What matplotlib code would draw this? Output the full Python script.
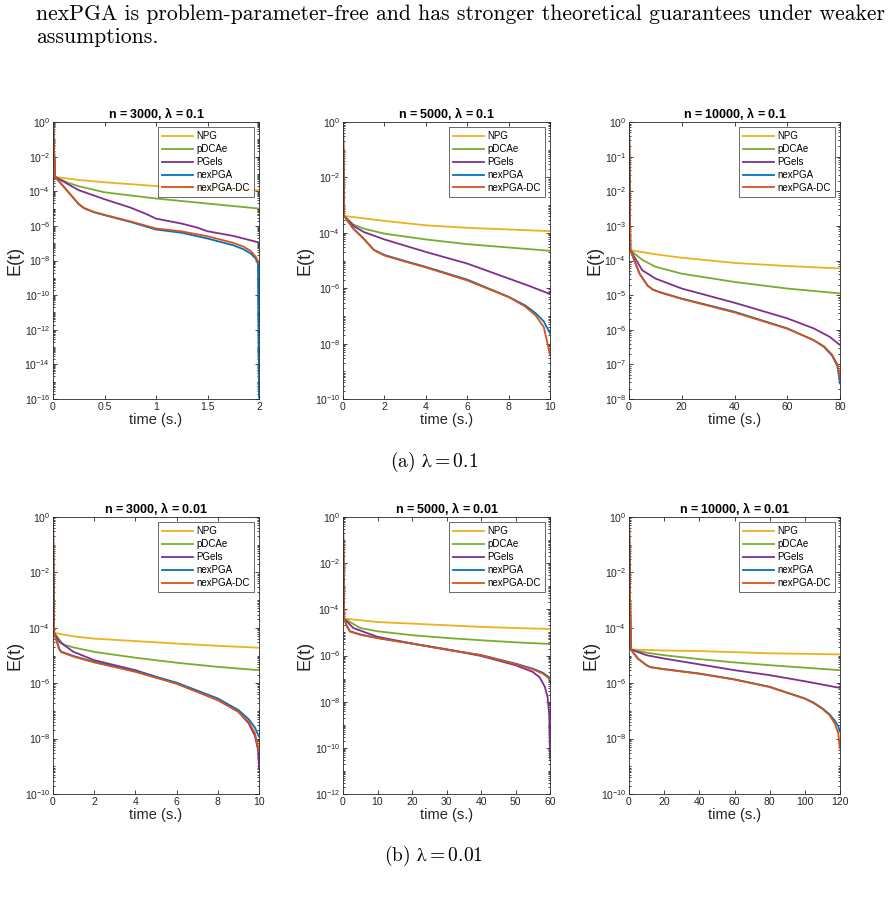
import numpy as np
import matplotlib
matplotlib.use("Agg")
import matplotlib.pyplot as plt
from matplotlib.ticker import FixedLocator, NullFormatter, FuncFormatter, LogFormatterSciNotation

plt.rcParams['font.family'] = ['Liberation Sans', 'DejaVu Sans']
plt.rcParams['mathtext.fontset'] = 'cm'
plt.rcParams['mathtext.default'] = 'regular'

methods = ["NPG", "pDCAe", "PGels", "nexPGA", "nexPGA-DC"]
colors = ["#EDB120", "#77AC30", "#7E2F8E", "#0072BD", "#D95319"]

titles = ["n = 3000, $\\lambda$ = 0.1", "n = 5000, $\\lambda$ = 0.1", "n = 10000, $\\lambda$ = 0.1",
          "n = 3000, $\\lambda$ = 0.01", "n = 5000, $\\lambda$ = 0.01", "n = 10000, $\\lambda$ = 0.01"]
x_max = [2, 10, 80, 10, 60, 120]
x_ticks = [[0, 0.5, 1, 1.5, 2], [0, 2, 4, 6, 8, 10], [0, 20, 40, 60, 80],
           [0, 2, 4, 6, 8, 10], [0, 10, 20, 30, 40, 50, 60], [0, 20, 40, 60, 80, 100, 120]]
y_min_exp = [-16, -10, -8, -10, -12, -10]
y_step = [2, 2, 1, 2, 2, 2]

# E(t) values as log10 exponents
# (a) n = 3000, lambda = 0.1
a1_t = {"NPG": [0, 0.02, 0.25, 0.5, 1.0, 1.5, 2.0],
        "pDCAe": [0, 0.02, 0.15, 0.25, 0.5, 1.0, 1.5, 2.0],
        "PGels": [0, 0.02, 0.25, 0.5, 0.75, 0.9, 1.0, 1.25, 1.4, 1.5, 1.75, 2.0],
        "nexPGA": [0, 0.02, 0.1, 0.2, 0.25, 0.3, 0.4, 0.5, 0.75, 1.0, 1.25, 1.5, 1.75, 1.85, 1.92, 1.97, 1.99, 2.0],
        "nexPGA-DC": [0, 0.02, 0.1, 0.2, 0.25, 0.3, 0.4, 0.5, 0.75, 1.0, 1.25, 1.5, 1.75, 1.85, 1.92, 1.97, 2.0]}
a1_e = {"NPG": [0, -3.17, -3.35, -3.48, -3.70, -3.83, -3.94],
        "pDCAe": [0, -3.17, -3.52, -3.71, -4.06, -4.42, -4.71, -5.0],
        "PGels": [0, -3.17, -3.94, -4.46, -4.94, -5.3, -5.58, -5.87, -6.1, -6.31, -6.58, -6.96],
        "nexPGA": [0, -3.17, -3.71, -4.4, -4.75, -4.98, -5.22, -5.38, -5.77, -6.21, -6.40, -6.73, -7.12, -7.35, -7.6, -7.9, -8.2, -15.9],
        "nexPGA-DC": [0, -3.17, -3.71, -4.4, -4.73, -4.96, -5.2, -5.36, -5.74, -6.15, -6.32, -6.6, -6.98, -7.2, -7.45, -7.8, -8.17]}

# (a) n = 5000, lambda = 0.1
a2_t = {"NPG": [0, 0.05, 2, 4, 6, 8, 10],
        "pDCAe": [0, 0.05, 0.5, 1, 2, 4, 6, 8, 10],
        "PGels": [0, 0.05, 0.5, 1, 2, 4, 6, 8, 9, 10],
        "nexPGA": [0, 0.05, 0.5, 1, 1.5, 2, 3, 4, 6, 8, 8.8, 9.3, 9.7, 10],
        "nexPGA-DC": [0, 0.05, 0.5, 1, 1.5, 2, 3, 4, 6, 8, 8.8, 9.3, 9.7, 10]}
a2_e = {"NPG": [0, -3.39, -3.57, -3.73, -3.82, -3.88, -3.94],
        "pDCAe": [0, -3.39, -3.7, -3.85, -4.03, -4.24, -4.41, -4.53, -4.65],
        "PGels": [0, -3.39, -3.75, -3.97, -4.24, -4.69, -5.11, -5.65, -5.92, -6.21],
        "nexPGA": [0, -3.39, -3.85, -4.21, -4.62, -4.80, -5.02, -5.23, -5.69, -6.31, -6.62, -6.9, -7.2, -7.63],
        "nexPGA-DC": [0, -3.39, -3.85, -4.22, -4.63, -4.82, -5.04, -5.25, -5.72, -6.32, -6.66, -6.98, -7.4, -8.41]}

# (a) n = 10000, lambda = 0.1
a3_t = {"NPG": [0, 0.5, 10, 20, 40, 60, 80],
        "pDCAe": [0, 0.5, 5, 10, 20, 40, 60, 80],
        "PGels": [0, 0.5, 5, 10, 20, 40, 60, 70, 76, 80],
        "nexPGA": [0, 0.5, 4, 7, 9, 12, 20, 40, 60, 70, 74, 77, 79, 80],
        "nexPGA-DC": [0, 0.5, 4, 7, 9, 12, 20, 40, 60, 70, 74, 77, 79, 80]}
a3_e = {"NPG": [0, -3.70, -3.82, -3.92, -4.07, -4.16, -4.23],
        "pDCAe": [0, -3.70, -3.98, -4.18, -4.38, -4.62, -4.81, -4.95],
        "PGels": [0, -3.70, -4.28, -4.52, -4.81, -5.22, -5.67, -5.96, -6.2, -6.44],
        "nexPGA": [0, -3.70, -4.38, -4.72, -4.84, -4.92, -5.10, -5.48, -5.96, -6.30, -6.5, -6.75, -7.05, -7.55],
        "nexPGA-DC": [0, -3.70, -4.38, -4.72, -4.84, -4.93, -5.11, -5.50, -5.97, -6.30, -6.48, -6.72, -7.0, -7.40]}

# (b) n = 3000, lambda = 0.01
b1_t = {"NPG": [0, 0.05, 1, 2, 4, 6, 8, 10],
        "pDCAe": [0, 0.05, 0.5, 1, 2, 4, 6, 8, 10],
        "PGels": [0, 0.05, 0.3, 1, 2, 4, 6, 8, 9, 9.5, 9.8, 9.95, 10],
        "nexPGA": [0, 0.05, 0.3, 0.4, 1, 2, 4, 6, 8, 9, 9.5, 9.8, 10],
        "nexPGA-DC": [0, 0.05, 0.3, 0.4, 1, 2, 4, 6, 8, 9, 9.5, 9.8, 10]}
b1_e = {"NPG": [0, -4.18, -4.31, -4.39, -4.48, -4.57, -4.65, -4.72],
        "pDCAe": [0, -4.18, -4.6, -4.71, -4.87, -5.08, -5.26, -5.41, -5.53],
        "PGels": [0, -4.18, -4.5, -4.87, -5.17, -5.53, -6.01, -6.61, -7.03, -7.45, -7.9, -8.4, -9.07],
        "nexPGA": [0, -4.18, -4.75, -4.86, -5.02, -5.23, -5.56, -5.98, -6.55, -6.97, -7.3, -7.6, -7.93],
        "nexPGA-DC": [0, -4.18, -4.78, -4.88, -5.04, -5.25, -5.59, -6.02, -6.60, -7.03, -7.4, -7.8, -8.47]}

# (b) n = 5000, lambda = 0.01
b2_t = {"NPG": [0, 0.3, 10, 20, 30, 40, 50, 60],
        "pDCAe": [0, 0.3, 5, 10, 20, 30, 40, 50, 60],
        "PGels": [0, 0.3, 3, 10, 20, 30, 40, 50, 55, 57, 58.5, 59.3, 59.8, 60],
        "nexPGA": [0, 0.3, 1, 2, 5, 10, 20, 30, 40, 50, 55, 58, 60],
        "nexPGA-DC": [0, 0.3, 1, 2, 5, 10, 20, 30, 40, 50, 55, 58, 60]}
b2_e = {"NPG": [0, -4.40, -4.55, -4.62, -4.69, -4.76, -4.81, -4.85],
        "pDCAe": [0, -4.40, -4.81, -4.95, -5.12, -5.24, -5.34, -5.43, -5.50],
        "PGels": [0, -4.40, -4.81, -5.19, -5.48, -5.73, -6.02, -6.42, -6.71, -6.95, -7.35, -7.8, -8.6, -10.46],
        "nexPGA": [0, -4.40, -4.69, -4.95, -5.09, -5.24, -5.48, -5.74, -5.98, -6.35, -6.57, -6.75, -6.97],
        "nexPGA-DC": [0, -4.40, -4.69, -4.96, -5.10, -5.25, -5.49, -5.75, -5.99, -6.37, -6.60, -6.79, -7.03]}

# (b) n = 10000, lambda = 0.01
b3_t = {"NPG": [0, 1, 20, 40, 60, 80, 100, 120],
        "pDCAe": [0, 1, 10, 20, 40, 60, 80, 100, 120],
        "PGels": [0, 1, 10, 20, 40, 60, 80, 100, 120],
        "nexPGA": [0, 1, 5, 10, 12, 20, 40, 60, 80, 100, 105, 110, 114, 117, 119, 120],
        "nexPGA-DC": [0, 1, 5, 10, 12, 20, 40, 60, 80, 100, 105, 110, 114, 117, 119, 120]}
b3_e = {"NPG": [0, -4.78, -4.82, -4.84, -4.88, -4.92, -4.94, -4.96],
        "pDCAe": [0, -4.78, -4.9, -4.99, -5.13, -5.25, -5.35, -5.44, -5.53],
        "PGels": [0, -4.78, -4.99, -5.11, -5.32, -5.53, -5.71, -5.93, -6.17],
        "nexPGA": [0, -4.78, -5.11, -5.35, -5.42, -5.49, -5.65, -5.86, -6.13, -6.55, -6.70, -6.91, -7.12, -7.35, -7.55, -7.75],
        "nexPGA-DC": [0, -4.78, -5.11, -5.35, -5.42, -5.50, -5.66, -5.87, -6.14, -6.56, -6.72, -6.93, -7.15, -7.45, -7.8, -8.35]}

all_t = [a1_t, a2_t, a3_t, b1_t, b2_t, b3_t]
all_e = [a1_e, a2_e, a3_e, b1_e, b2_e, b3_e]

W, H = 894, 899
fig = plt.figure(figsize=(W / 100, H / 100), dpi=100)

# axes boxes in pixels: left, right, top, bottom
lefts = [53, 343, 629]
rights = [259, 550, 840]
tops = [122, 517]
bottoms = [399, 794]

axc = "#262626"
for k in range(6):
    r, c = k // 3, k % 3
    ax = fig.add_axes([lefts[c] / W, 1 - bottoms[r] / H,
                       (rights[c] - lefts[c]) / W, (bottoms[r] - tops[r]) / H])
    for m, col in zip(methods, colors):
        ax.plot(all_t[k][m], 10.0 ** np.array(all_e[k][m]), color=col, lw=1.3, label=m)
    ax.set_yscale('log')
    ax.set_xlim(0, x_max[k])
    ax.set_ylim(10.0 ** y_min_exp[k], 1)
    ax.set_xticks(x_ticks[k])
    ax.xaxis.set_major_formatter(FuncFormatter(lambda v, p: '%g' % v))
    majors = [10.0 ** e for e in range(0, y_min_exp[k] - 1, -y_step[k])]
    ax.yaxis.set_major_locator(FixedLocator(majors))
    ax.yaxis.set_major_formatter(LogFormatterSciNotation())
    minors = []
    for e in range(y_min_exp[k], 0):
        for s in range(1, 10):
            if s == 1 and (-e) % y_step[k] == 0:
                continue
            minors.append(s * 10.0 ** e)
    ax.yaxis.set_minor_locator(FixedLocator(minors))
    ax.yaxis.set_minor_formatter(NullFormatter())
    ax.tick_params(which='both', direction='in', top=True, right=True,
                   colors=axc, labelsize=7.5, width=0.6)
    ax.tick_params(which='major', length=3, pad=2)
    ax.tick_params(which='minor', length=1.6)
    for sp in ax.spines.values():
        sp.set_color(axc)
        sp.set_linewidth(0.6)
    ax.set_title(titles[k], fontsize=9, fontweight='bold', pad=3)
    ax.set_xlabel("time (s.)", fontsize=10.5, color=axc, labelpad=1)
    ax.set_ylabel("E(t)", fontsize=13, color=axc, labelpad=1)
    leg = ax.legend(loc='upper right', fontsize=7, frameon=True, fancybox=False,
                    edgecolor=axc, handlelength=3.1, handletextpad=0.4,
                    labelspacing=0.3, borderpad=0.4, borderaxespad=0.55)
    leg.get_frame().set_linewidth(0.6)

# page text around the figure
fig.text(36 / W, 1 - 20 / H,
         "nexPGA is problem-parameter-free and has stronger theoretical guarantees under weaker",
         family='cmr10', fontsize=15.6, ha='left', va='baseline')
fig.text(36 / W, 1 - 43 / H, "assumptions.", family='cmr10', fontsize=15.6, ha='left', va='baseline')
fig.text(434 / W, 1 - 462 / H, "(a) $\\lambda = 0.1$", family='cmr10', fontsize=14, ha='center', va='center')
fig.text(434 / W, 1 - 856 / H, "(b) $\\lambda = 0.01$", family='cmr10', fontsize=14, ha='center', va='center')

fig.savefig("out.png", dpi=100)
